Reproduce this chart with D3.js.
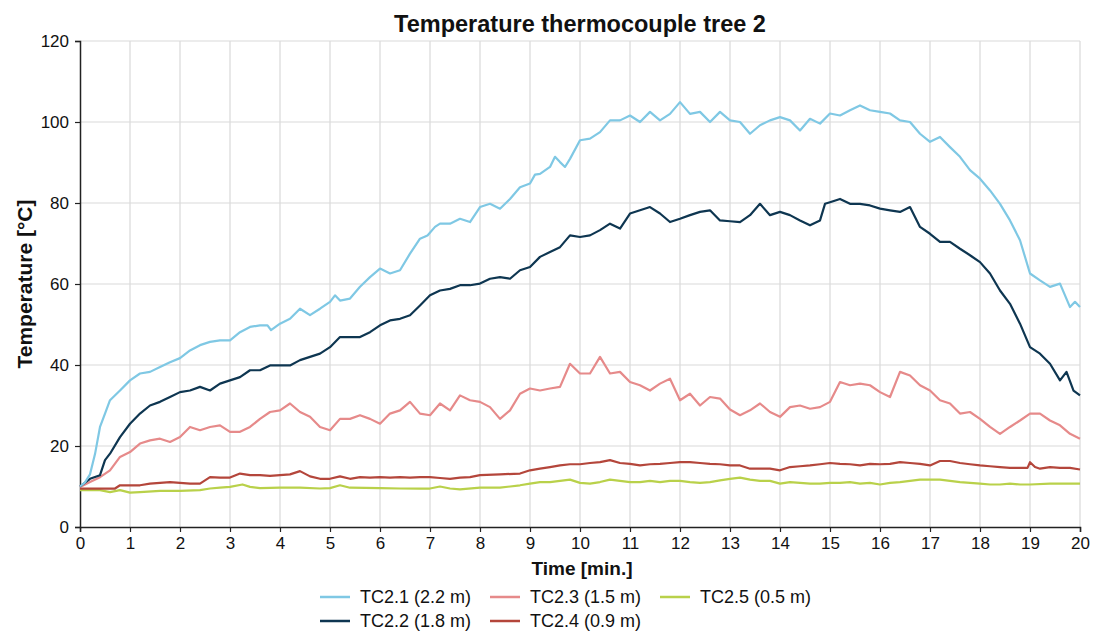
<!DOCTYPE html>
<html><head><meta charset="utf-8">
<script src="https://cdn.jsdelivr.net/npm/d3@7"></script>
<style>
body{margin:0;background:#fff;}
text{font-family:"Liberation Sans",Arial,sans-serif;fill:#111;}
</style></head>
<body><svg id="c" width="1097" height="631"></svg>
<script>
const title = "Temperature thermocouple tree 2";
const xLabel = "Time [min.]";
const yLabel = "Temperature [°C]";
const xTicks = d3.range(0, 21, 1);
const yTicks = [0, 20, 40, 60, 80, 100, 120];
const seriesNames = ["TC2.1 (2.2 m)", "TC2.2 (1.8 m)", "TC2.3 (1.5 m)", "TC2.4 (0.9 m)", "TC2.5 (0.5 m)"];
const seriesColors = ["#7fc8e4", "#0e3651", "#e68a8a", "#b4463b", "#b9d14a"];

const tc21 = [[0,10],[0.1,11],[0.2,13],[0.3,18],[0.4,24.7],[0.5,28],[0.6,31.3],[0.8,33.7],[1.0,36.2],[1.2,37.9],[1.4,38.3],[1.6,39.5],[1.8,40.7],[2.0,41.7],[2.2,43.6],[2.4,44.9],[2.6,45.7],[2.8,46.1],[3.0,46.1],[3.2,48.1],[3.4,49.4],[3.6,49.8],[3.75,49.8],[3.82,48.6],[4.0,50.2],[4.2,51.4],[4.4,53.9],[4.6,52.3],[4.8,53.9],[5.0,55.6],[5.1,57.2],[5.2,55.9],[5.4,56.4],[5.6,59.3],[5.8,61.7],[6.0,63.8],[6.2,62.6],[6.4,63.4],[6.6,67.5],[6.8,71.2],[6.95,72],[7.1,74.1],[7.2,74.9],[7.4,74.9],[7.6,76.1],[7.8,75.3],[8.0,79],[8.2,79.8],[8.4,78.6],[8.6,81],[8.8,83.9],[9.0,84.8],[9.1,87],[9.2,87.2],[9.4,88.9],[9.5,91.4],[9.6,90.1],[9.7,88.9],[9.8,90.9],[10.0,95.5],[10.2,95.9],[10.4,97.5],[10.6,100.4],[10.8,100.4],[11.0,101.6],[11.2,100],[11.4,102.5],[11.6,100.4],[11.8,102],[12.0,104.9],[12.2,102],[12.4,102.5],[12.6,100],[12.8,102.5],[13.0,100.4],[13.2,100],[13.4,97.1],[13.6,99.2],[13.8,100.4],[14.0,101.2],[14.2,100.4],[14.4,97.9],[14.6,100.8],[14.8,99.6],[15.0,102.1],[15.2,101.6],[15.4,102.9],[15.6,104.1],[15.8,102.9],[16.0,102.5],[16.2,102.1],[16.4,100.4],[16.6,100],[16.8,97.1],[17.0,95.1],[17.2,96.3],[17.4,93.8],[17.6,91.4],[17.8,88.1],[18.0,86],[18.2,83.1],[18.4,79.8],[18.6,75.7],[18.8,70.8],[19.0,62.6],[19.2,60.9],[19.4,59.3],[19.6,60.1],[19.8,54.3],[19.9,55.6],[20.0,54.3]];

const tc22 = [[0,10],[0.2,11.9],[0.4,12.8],[0.5,16.5],[0.6,18.1],[0.8,22.2],[1.0,25.5],[1.2,28],[1.4,30],[1.6,30.9],[1.8,32.1],[2.0,33.3],[2.2,33.7],[2.4,34.6],[2.6,33.7],[2.8,35.4],[3.0,36.2],[3.2,37],[3.4,38.7],[3.6,38.7],[3.8,39.9],[4.0,39.9],[4.2,39.9],[4.4,41.2],[4.6,42],[4.8,42.8],[5.0,44.4],[5.2,46.9],[5.4,46.9],[5.6,46.9],[5.8,48.1],[6.0,49.8],[6.2,51],[6.4,51.4],[6.6,52.3],[6.8,54.7],[7.0,57.2],[7.2,58.4],[7.4,58.8],[7.6,59.7],[7.8,59.7],[8.0,60.1],[8.2,61.3],[8.4,61.7],[8.6,61.3],[8.8,63.4],[9.0,64.2],[9.2,66.7],[9.4,67.9],[9.6,69.1],[9.8,72],[10.0,71.6],[10.2,72],[10.4,73.3],[10.6,74.9],[10.8,73.7],[11.0,77.4],[11.2,78.2],[11.4,79],[11.6,77.4],[11.8,75.3],[12.0,76.1],[12.2,77],[12.4,77.8],[12.6,78.2],[12.8,75.7],[13.0,75.5],[13.2,75.3],[13.4,77],[13.6,79.8],[13.8,77],[14.0,77.8],[14.2,77],[14.4,75.7],[14.6,74.5],[14.8,75.7],[14.9,79.8],[15.0,80.2],[15.2,81],[15.4,79.8],[15.6,79.8],[15.8,79.4],[16.0,78.6],[16.2,78.2],[16.4,77.8],[16.6,79],[16.8,74.1],[17.0,72.4],[17.2,70.4],[17.4,70.4],[17.6,68.7],[17.8,67.1],[18.0,65.4],[18.2,62.6],[18.4,58.4],[18.6,55.1],[18.8,50.2],[19.0,44.4],[19.2,42.8],[19.4,40.3],[19.6,36.2],[19.73,38.3],[19.87,33.7],[20.0,32.5]];

const tc23 = [[0,9.9],[0.2,11.1],[0.4,12.3],[0.6,14],[0.8,17.3],[1.0,18.5],[1.2,20.6],[1.4,21.4],[1.6,21.8],[1.8,21],[2.0,22.2],[2.2,24.7],[2.4,23.9],[2.6,24.7],[2.8,25.1],[3.0,23.5],[3.2,23.5],[3.4,24.7],[3.6,26.7],[3.8,28.4],[4.0,28.8],[4.2,30.5],[4.4,28.4],[4.6,27.2],[4.8,24.7],[5.0,23.9],[5.2,26.7],[5.4,26.7],[5.6,27.6],[5.8,26.7],[6.0,25.5],[6.2,28],[6.4,28.8],[6.6,30.9],[6.8,28],[7.0,27.6],[7.2,30.5],[7.4,28.8],[7.6,32.5],[7.8,31.3],[8.0,30.9],[8.2,29.6],[8.4,26.7],[8.6,28.8],[8.8,32.9],[9.0,34.2],[9.2,33.7],[9.4,34.2],[9.6,34.6],[9.8,40.3],[10.0,37.9],[10.2,37.9],[10.4,42],[10.6,37.9],[10.8,38.3],[11.0,35.8],[11.2,35],[11.4,33.7],[11.6,35.4],[11.8,36.6],[12.0,31.3],[12.2,32.9],[12.4,30],[12.6,32.1],[12.8,31.7],[13.0,29],[13.2,27.6],[13.4,28.8],[13.6,30.5],[13.8,28.4],[14.0,27.2],[14.2,29.6],[14.4,30],[14.6,29.2],[14.8,29.6],[15.0,30.9],[15.2,35.8],[15.4,35],[15.6,35.4],[15.8,35],[16.0,33.3],[16.2,32.1],[16.4,38.3],[16.6,37.4],[16.8,35],[17.0,33.7],[17.2,31.3],[17.4,30.5],[17.6,28],[17.8,28.4],[18.0,26.7],[18.2,24.7],[18.4,23],[18.6,24.7],[18.8,26.3],[19.0,28],[19.2,28],[19.4,26.3],[19.6,25.1],[19.8,23],[20.0,21.8]];

const tc24 = [[0,9.5],[0.4,9.5],[0.7,9.5],[0.8,10.3],[1.0,10.3],[1.2,10.3],[1.4,10.7],[1.6,10.9],[1.8,11.1],[2.0,10.9],[2.2,10.7],[2.4,10.7],[2.6,12.3],[2.8,12.2],[3.0,12.2],[3.2,13.2],[3.4,12.8],[3.6,12.8],[3.8,12.6],[4.0,12.8],[4.2,13],[4.4,13.8],[4.6,12.5],[4.8,11.9],[5.0,11.9],[5.2,12.5],[5.4,11.9],[5.6,12.3],[5.8,12.2],[6.0,12.3],[6.2,12.2],[6.4,12.3],[6.6,12.2],[6.8,12.3],[7.0,12.3],[7.2,12.1],[7.4,11.9],[7.6,12.2],[7.8,12.3],[8.0,12.8],[8.4,13],[8.8,13.2],[9.0,14],[9.2,14.4],[9.4,14.8],[9.6,15.2],[9.8,15.5],[10.0,15.5],[10.2,15.8],[10.4,16],[10.6,16.5],[10.8,15.8],[11.0,15.6],[11.2,15.2],[11.4,15.5],[11.6,15.6],[11.8,15.8],[12.0,16],[12.2,16],[12.4,15.8],[12.6,15.6],[12.8,15.5],[13.0,15.2],[13.2,15.2],[13.4,14.4],[13.6,14.4],[13.8,14.4],[14.0,14],[14.2,14.8],[14.4,15],[14.6,15.2],[14.8,15.5],[15.0,15.8],[15.2,15.6],[15.4,15.5],[15.6,15.2],[15.8,15.6],[16.0,15.5],[16.2,15.6],[16.4,16],[16.6,15.8],[16.8,15.6],[17.0,15.2],[17.2,16.3],[17.4,16.3],[17.6,15.8],[17.8,15.5],[18.0,15.2],[18.2,15],[18.4,14.8],[18.6,14.6],[18.8,14.6],[18.95,14.6],[19.0,16],[19.1,14.8],[19.2,14.4],[19.4,14.8],[19.6,14.6],[19.8,14.6],[20.0,14.2]];

const tc25 = [[0,9.1],[0.4,9.1],[0.6,8.6],[0.8,9.1],[1.0,8.5],[1.2,8.6],[1.6,8.9],[2.0,8.9],[2.4,9.1],[2.6,9.5],[2.8,9.7],[3.0,9.9],[3.25,10.5],[3.4,9.9],[3.6,9.6],[4.0,9.7],[4.4,9.7],[4.8,9.5],[5.0,9.6],[5.2,10.3],[5.4,9.7],[6.0,9.6],[6.4,9.5],[6.8,9.5],[7.0,9.5],[7.2,10],[7.4,9.5],[7.6,9.3],[8.0,9.7],[8.4,9.7],[8.8,10.3],[9.0,10.7],[9.2,11.1],[9.4,11.1],[9.6,11.4],[9.8,11.7],[10.0,10.9],[10.2,10.7],[10.4,11.1],[10.6,11.7],[10.8,11.4],[11.0,11.1],[11.2,11.1],[11.4,11.4],[11.6,11.1],[11.8,11.4],[12.0,11.4],[12.2,11.1],[12.4,10.9],[12.6,11.1],[12.8,11.5],[13.0,11.9],[13.2,12.2],[13.4,11.7],[13.6,11.4],[13.8,11.4],[14.0,10.7],[14.2,11.1],[14.4,10.9],[14.6,10.7],[14.8,10.7],[15.0,10.9],[15.2,10.9],[15.4,11.1],[15.6,10.7],[15.8,10.9],[16.0,10.5],[16.2,10.9],[16.4,11.1],[16.6,11.4],[16.8,11.7],[17.0,11.7],[17.2,11.7],[17.4,11.4],[17.6,11.1],[17.8,10.9],[18.0,10.7],[18.2,10.5],[18.4,10.5],[18.6,10.7],[18.8,10.5],[19.0,10.5],[19.4,10.7],[19.8,10.7],[20.0,10.7]];

const seriesData = [tc21, tc22, tc23, tc24, tc25];

const svg = d3.select("#c");
const m = {l:80, r:1080, t:41, b:527};
const x = d3.scaleLinear().domain([0,20]).range([m.l, m.r]);
const y = d3.scaleLinear().domain([0,120]).range([m.b, m.t]);

// grid
svg.append("g").selectAll("line.v").data(xTicks.filter(d=>d>0)).join("line")
  .attr("x1",d=>x(d)).attr("x2",d=>x(d)).attr("y1",m.t).attr("y2",m.b)
  .attr("stroke","#d9d9d9").attr("stroke-width",1.2);
svg.append("g").selectAll("line.h").data(yTicks.filter(d=>d>0)).join("line")
  .attr("x1",m.l).attr("x2",m.r).attr("y1",d=>y(d)).attr("y2",d=>y(d))
  .attr("stroke","#d9d9d9").attr("stroke-width",1.2);

// axes
const xAxis = d3.axisBottom(x).tickValues(xTicks).tickSize(5).tickPadding(5).tickFormat(d3.format("d"));
const yAxis = d3.axisLeft(y).tickValues(yTicks).tickSize(5).tickPadding(6).tickFormat(d3.format("d"));
const gx = svg.append("g").attr("transform",`translate(0,${m.b})`).call(xAxis);
const gy = svg.append("g").attr("transform",`translate(${m.l},0)`).call(yAxis);
[gx,gy].forEach(g=>{
  g.select(".domain").attr("stroke","#222").attr("stroke-width",1.5);
  g.selectAll(".tick line").attr("stroke","#222").attr("stroke-width",1.2);
  g.selectAll(".tick text").attr("font-size",17).attr("fill","#111").attr("font-family","Liberation Sans, Arial, sans-serif");
});

// lines
const line = d3.line().x(d=>x(d[0])).y(d=>y(d[1])).curve(d3.curveLinear);
const order = [4,3,2,1,0];
order.forEach(i=>{
  svg.append("path").datum(seriesData[i]).attr("d",line)
    .attr("fill","none").attr("stroke",seriesColors[i]).attr("stroke-width",2.2)
    .attr("stroke-linejoin","round");
});

// titles
svg.append("text").attr("x",580).attr("y",32).attr("text-anchor","middle")
  .attr("font-size",23.5).attr("font-weight","bold").text(title);
svg.append("text").attr("x",582).attr("y",575).attr("text-anchor","middle")
  .attr("font-size",19).attr("font-weight","bold").text(xLabel);
svg.append("text").attr("transform",`translate(32,${(m.t+m.b)/2}) rotate(-90)`).attr("text-anchor","middle")
  .attr("font-size",21).attr("font-weight","bold").text(yLabel);

// legend
const legPos = [[320,597],[320,621],[490,597],[490,621],[660,597]];
const lg = svg.append("g");
seriesNames.forEach((n,i)=>{
  const [lx,ly] = legPos[i];
  lg.append("line").attr("x1",lx).attr("x2",lx+30).attr("y1",ly).attr("y2",ly)
    .attr("stroke",seriesColors[i]).attr("stroke-width",2.5);
  lg.append("text").attr("x",lx+40).attr("y",ly+6).attr("font-size",18).text(n);
});
</script></body></html>
